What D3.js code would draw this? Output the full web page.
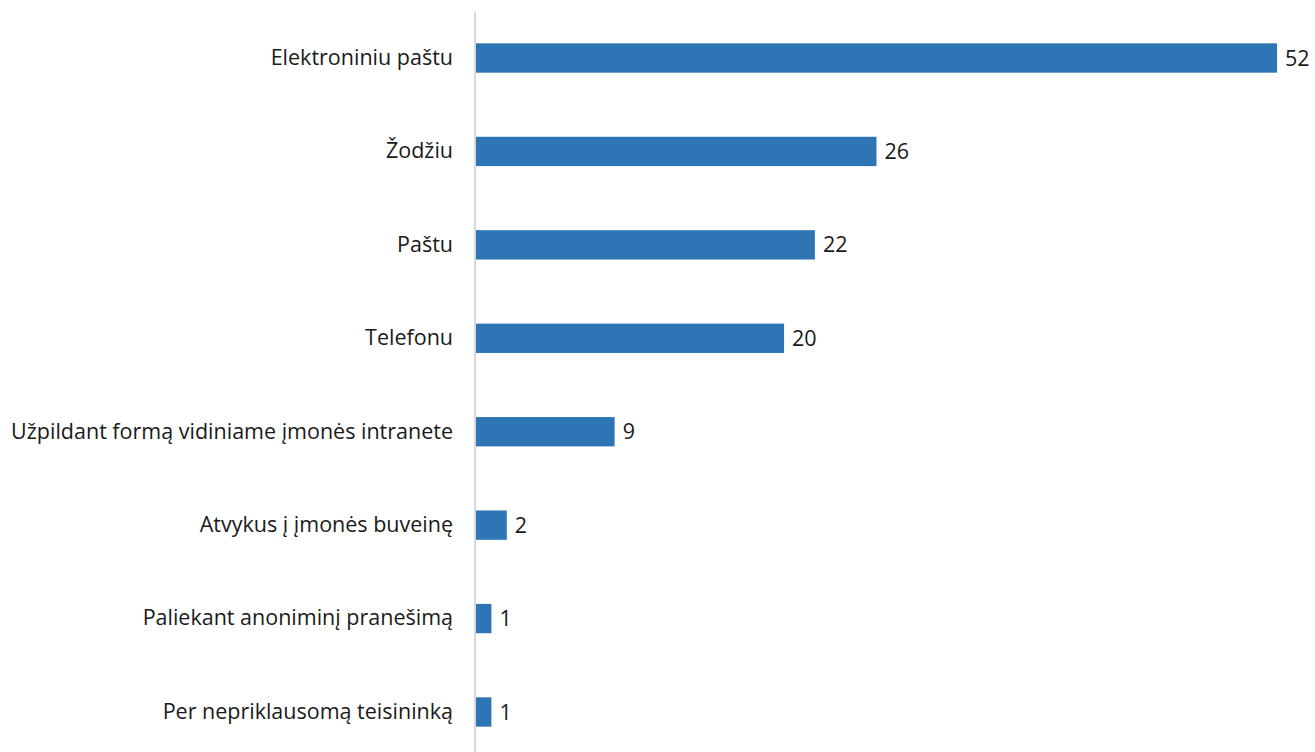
<!DOCTYPE html>
<html>
<head>
<meta charset="utf-8">
<script src="https://cdn.jsdelivr.net/npm/d3@7"></script>
<style>
  body { margin: 0; background: #fff; }
  text { font-family: "Open Sans", sans-serif; }
</style>
</head>
<body>
<svg id="chart"></svg>
<script>
const w = 1315;
const h = 752;

const categories = [
  "Elektroniniu paštu",
  "Žodžiu",
  "Paštu",
  "Telefonu",
  "Užpildant formą vidiniame įmonės intranete",
  "Atvykus į įmonės buveinę",
  "Paliekant anoniminį pranešimą",
  "Per nepriklausomą teisininką"
];
const values = [52, 26, 22, 20, 9, 2, 1, 1];

const svg = d3.select("#chart")
  .attr("width", w)
  .attr("height", h);

const data = categories.map((c, i) => ({ cat: c, val: values[i] }));

const axisX = 476;
const fontSize = 21.5;

const xScale = d3.scaleLinear()
  .domain([0, 52])
  .range([axisX, 1277]);

const yScale = d3.scaleBand()
  .domain(categories)
  .range([11.3, 758.7])
  .paddingInner(0.686)
  .paddingOuter(0.343);

svg.selectAll("rect.bar")
  .data(data)
  .enter()
  .append("rect")
  .attr("class", "bar")
  .attr("x", xScale(0))
  .attr("y", d => yScale(d.cat))
  .attr("width", d => xScale(d.val) - xScale(0))
  .attr("height", yScale.bandwidth())
  .attr("fill", "#2e75b6");

svg.selectAll("text.value")
  .data(data)
  .enter()
  .append("text")
  .attr("class", "value")
  .attr("x", d => xScale(d.val) + 8)
  .attr("y", d => yScale(d.cat) + yScale.bandwidth() / 2)
  .attr("dy", "0.35em")
  .attr("font-size", fontSize)
  .attr("fill", "#1a1a1a")
  .text(d => d.val);

const yAxis = d3.axisLeft(yScale)
  .tickSize(0)
  .tickPadding(22);

const gy = svg.append("g")
  .attr("transform", `translate(${axisX - 1}, 0)`)
  .call(yAxis);

gy.select(".domain")
  .attr("stroke", "#d9d9d9")
  .attr("stroke-width", 2)
  .attr("d", `M0,11.5V${h}`);

gy.selectAll("text")
  .attr("font-family", "'Open Sans', sans-serif")
  .attr("font-size", fontSize)
  .attr("fill", "#1a1a1a");
</script>
</body>
</html>
